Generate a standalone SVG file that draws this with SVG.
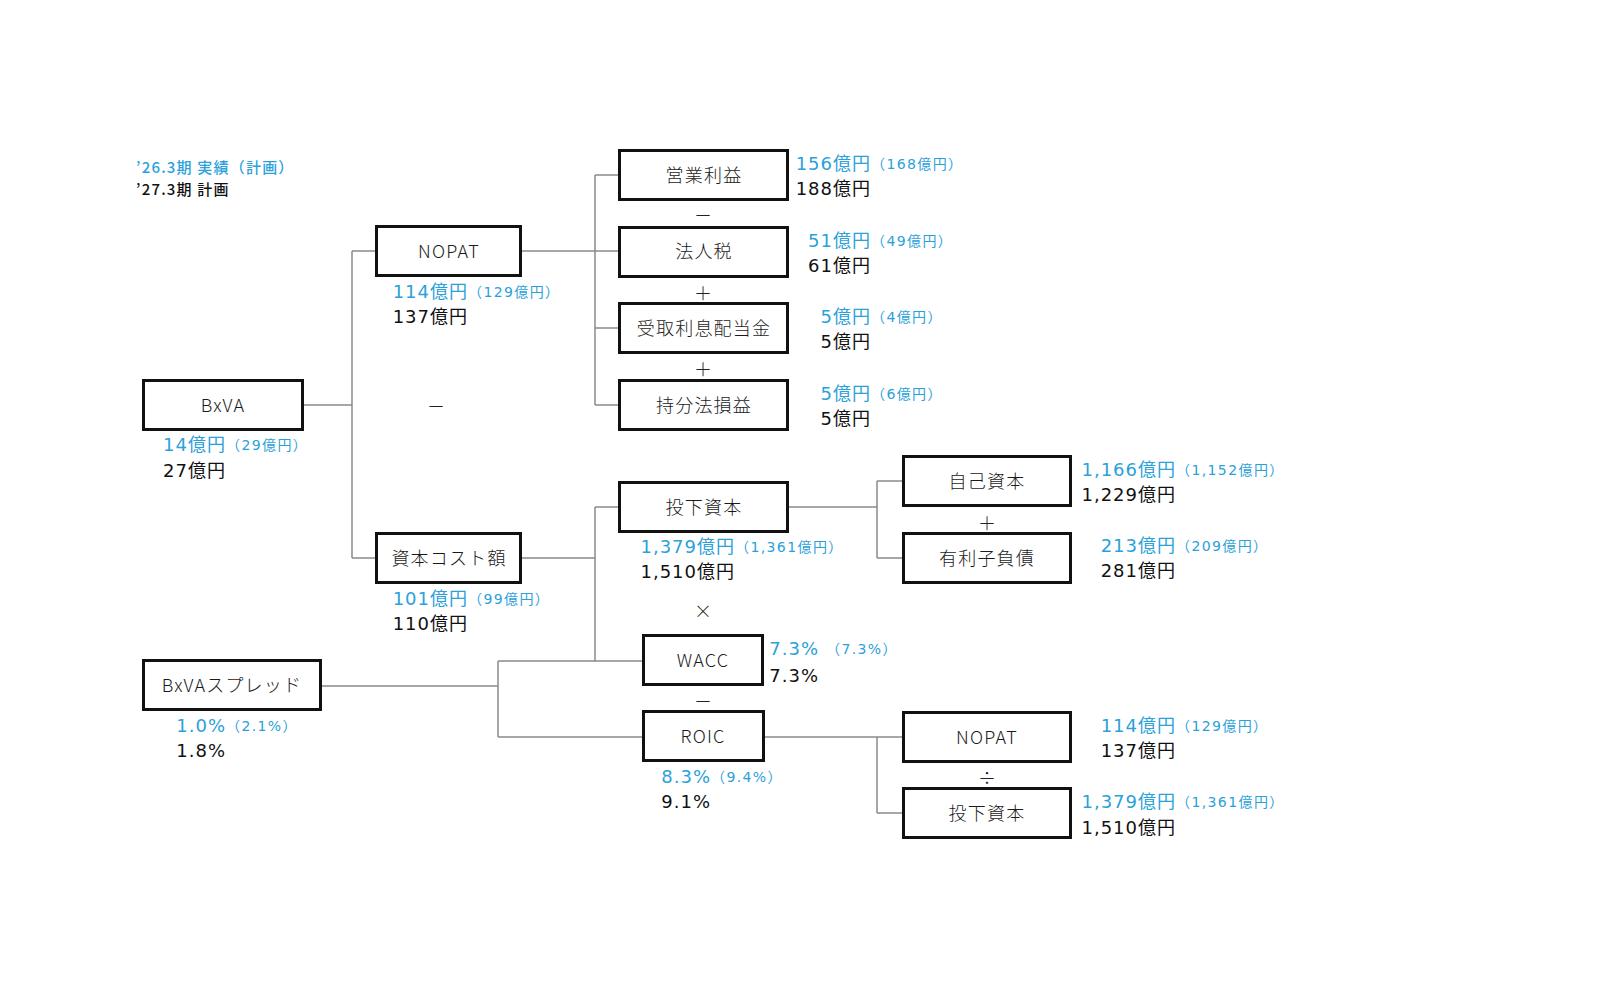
<svg xmlns="http://www.w3.org/2000/svg" width="1600" height="1000" viewBox="0 0 1600 1000">
<style>
text{font-family:"Noto Sans CJK JP","Noto Sans",sans-serif;}
.bx{fill:#fff;stroke:#111;stroke-width:3;}
.lb{font-size:18px;fill:#1a1a1a;text-anchor:middle;letter-spacing:1.2px;font-weight:300;}
.v{font-family:"DejaVu Sans","Noto Sans CJK JP",sans-serif;}
.vb{font-size:18px;fill:#2ba1da;letter-spacing:1px;text-anchor:end;}
.pb{font-size:14px;fill:#2ba1da;letter-spacing:1.4px;}
.vk{font-size:18px;fill:#111;letter-spacing:1px;text-anchor:end;}
.sg{font-size:18px;fill:#222;text-anchor:middle;font-weight:300;}
.lg{font-size:15px;font-weight:500;letter-spacing:1.2px;}
.cn{fill:none;stroke:#8a8a8a;stroke-width:1.5;}
</style>
<g id="legend">
<text class="lg" x="136" y="173" fill="#2ba1da">’26.3期 実績（計画）</text>
<text class="lg" x="136" y="195" fill="#111">’27.3期 計画</text>
</g>
<g id="connectors">
<path class="cn" d="M304,405H352M352,251V558M352,251H376M352,558H376M522,251H618M595,175V405M595,175H618M595,328H618M595,405H618M522,558H595M595,507V661M595,507H618M322,686H498M498,661V737M498,661H642M498,737H642M789,507H877M877,481V558M877,481H902M877,558H902M765,737H902M877,737V813M877,813H902"/>
</g>
<g id="signs">
<text class="sg" x="703" y="222">－</text>
<text class="sg" x="703" y="300">＋</text>
<text class="sg" x="703" y="376">＋</text>
<text class="sg" x="436" y="413">－</text>
<text class="sg" x="703" y="618">×</text>
<text class="sg" x="987" y="530">＋</text>
<text class="sg" x="703" y="708">－</text>
<text class="sg" x="987" y="785">÷</text>
</g>
<g id="n-bxva">
<rect class="bx" x="143.5" y="380.5" width="159" height="49"/>
<text class="lb" x="223" y="412">BxVA</text>
<text class="v vb" x="226" y="451">14億円</text><text class="v pb" x="226" y="450">（29億円）</text>
<text class="v vk" x="226" y="477">27億円</text>
</g>
<g id="n-nopat">
<rect class="bx" x="376.5" y="226.5" width="144" height="49"/>
<text class="lb" x="449" y="258">NOPAT</text>
<text class="v vb" x="468" y="298">114億円</text><text class="v pb" x="468" y="297">（129億円）</text>
<text class="v vk" x="468" y="323">137億円</text>
</g>
<g id="n-capcost">
<rect class="bx" x="376.5" y="533.5" width="144" height="49"/>
<text class="lb" x="449" y="565">資本コスト額</text>
<text class="v vb" x="468" y="605">101億円</text><text class="v pb" x="468" y="604">（99億円）</text>
<text class="v vk" x="468" y="630">110億円</text>
</g>
<g id="n-opprofit">
<rect class="bx" x="619.5" y="150.5" width="168" height="49"/>
<text class="lb" x="704" y="182">営業利益</text>
<text class="v vb" x="871" y="170">156億円</text><text class="v pb" x="871" y="169">（168億円）</text>
<text class="v vk" x="871" y="195">188億円</text>
</g>
<g id="n-tax">
<rect class="bx" x="619.5" y="227.5" width="168" height="49"/>
<text class="lb" x="704" y="258">法人税</text>
<text class="v vb" x="871" y="247">51億円</text><text class="v pb" x="871" y="246">（49億円）</text>
<text class="v vk" x="871" y="272">61億円</text>
</g>
<g id="n-interest">
<rect class="bx" x="619.5" y="303.5" width="168" height="49"/>
<text class="lb" x="704" y="335">受取利息配当金</text>
<text class="v vb" x="871" y="323">5億円</text><text class="v pb" x="871" y="322">（4億円）</text>
<text class="v vk" x="871" y="348">5億円</text>
</g>
<g id="n-equity-method">
<rect class="bx" x="619.5" y="380.5" width="168" height="49"/>
<text class="lb" x="704" y="412">持分法損益</text>
<text class="v vb" x="871" y="400">5億円</text><text class="v pb" x="871" y="399">（6億円）</text>
<text class="v vk" x="871" y="425">5億円</text>
</g>
<g id="n-invested">
<rect class="bx" x="619.5" y="482.5" width="168" height="49"/>
<text class="lb" x="704" y="514">投下資本</text>
<text class="v vb" x="735" y="553">1,379億円</text><text class="v pb" x="735" y="552">（1,361億円）</text>
<text class="v vk" x="735" y="578">1,510億円</text>
</g>
<g id="n-wacc">
<rect class="bx" x="643.5" y="635.5" width="119" height="49"/>
<text class="lb" x="703" y="667">WACC</text>
<text class="v vb" x="819" y="655">7.3%</text><text class="v pb" x="826" y="654">（7.3%）</text>
<text class="v vk" x="819" y="682">7.3%</text>
</g>
<g id="n-roic">
<rect class="bx" x="643.5" y="711.5" width="120" height="49"/>
<text class="lb" x="703" y="743">ROIC</text>
<text class="v vb" x="711" y="783">8.3%</text><text class="v pb" x="711" y="782">（9.4%）</text>
<text class="v vk" x="711" y="808">9.1%</text>
</g>
<g id="n-spread">
<rect class="bx" x="143.5" y="660.5" width="177" height="49"/>
<text class="lb" x="232" y="692">BxVAスプレッド</text>
<text class="v vb" x="226" y="732">1.0%</text><text class="v pb" x="226" y="731">（2.1%）</text>
<text class="v vk" x="226" y="757">1.8%</text>
</g>
<g id="n-own-capital">
<rect class="bx" x="903.5" y="456.5" width="167" height="49"/>
<text class="lb" x="987" y="488">自己資本</text>
<text class="v vb" x="1176" y="476">1,166億円</text><text class="v pb" x="1176" y="475">（1,152億円）</text>
<text class="v vk" x="1176" y="501">1,229億円</text>
</g>
<g id="n-debt">
<rect class="bx" x="903.5" y="533.5" width="167" height="49"/>
<text class="lb" x="987" y="565">有利子負債</text>
<text class="v vb" x="1176" y="552">213億円</text><text class="v pb" x="1176" y="551">（209億円）</text>
<text class="v vk" x="1176" y="577">281億円</text>
</g>
<g id="n-nopat2">
<rect class="bx" x="903.5" y="712.5" width="167" height="49"/>
<text class="lb" x="987" y="744">NOPAT</text>
<text class="v vb" x="1176" y="732">114億円</text><text class="v pb" x="1176" y="731">（129億円）</text>
<text class="v vk" x="1176" y="757">137億円</text>
</g>
<g id="n-invested2">
<rect class="bx" x="903.5" y="788.5" width="167" height="49"/>
<text class="lb" x="987" y="820">投下資本</text>
<text class="v vb" x="1176" y="808">1,379億円</text><text class="v pb" x="1176" y="807">（1,361億円）</text>
<text class="v vk" x="1176" y="834">1,510億円</text>
</g>
</svg>
